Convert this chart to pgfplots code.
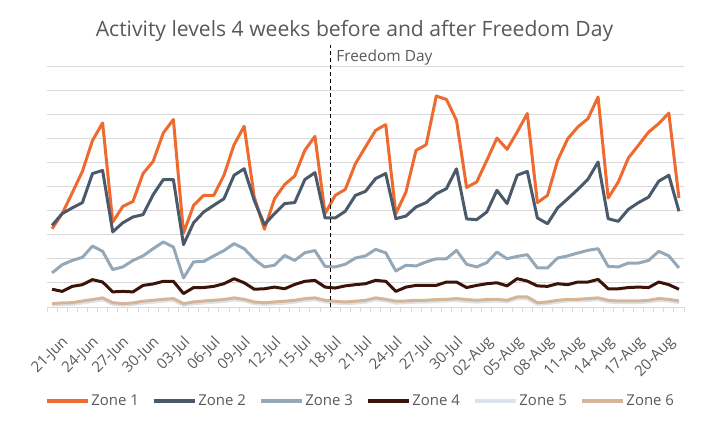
\documentclass[border=0pt]{standalone}
\usepackage{fontspec}
\setmainfont{Open Sans}
\usepackage{pgfplots}
\usepackage{pgfplotstable}
\pgfplotsset{compat=1.18}

\definecolor{zoneA}{HTML}{EE6A2F}
\definecolor{zoneB}{HTML}{4A5A6B}
\definecolor{zoneC}{HTML}{95A8B8}
\definecolor{zoneD}{HTML}{3C1308}
\definecolor{zoneE}{HTML}{DCE3EB}
\definecolor{zoneF}{HTML}{D4B597}
\definecolor{txtgrey}{HTML}{595959}
\definecolor{gridgrey}{HTML}{D9D9D9}

% day index (0 = 21-Jun), one column per zone
\pgfplotstableread{
i  z1   z2   z3   z4   z5   z6
0  3.26 3.40 1.42 0.74 0.08 0.14
1  3.89 3.89 1.76 0.65 0.10 0.17
2  4.76 4.13 1.94 0.86 0.11 0.18
3  5.65 4.35 2.07 0.93 0.17 0.25
4  6.94 5.56 2.54 1.14 0.23 0.31
5  7.67 5.69 2.32 1.04 0.30 0.38
6  3.54 3.13 1.56 0.63 0.11 0.18
7  4.19 3.51 1.67 0.65 0.08 0.14
8  4.40 3.75 1.94 0.63 0.10 0.17
9  5.56 3.85 2.13 0.90 0.16 0.24
10 6.07 4.68 2.43 0.96 0.20 0.28
11 7.25 5.31 2.71 1.07 0.24 0.32
12 7.81 5.31 2.50 1.07 0.27 0.35
13 3.08 2.60 1.21 0.56 0.07 0.14
14 4.24 3.51 1.88 0.81 0.13 0.21
15 4.65 3.96 1.90 0.81 0.17 0.25
16 4.65 4.24 2.13 0.86 0.20 0.28
17 5.49 4.51 2.35 0.97 0.23 0.31
18 6.76 5.49 2.64 1.18 0.30 0.38
19 7.53 5.76 2.43 1.01 0.25 0.32
20 4.58 4.44 1.99 0.74 0.14 0.21
21 3.24 3.43 1.67 0.76 0.11 0.18
22 4.51 3.89 1.74 0.83 0.13 0.21
23 5.10 4.31 2.15 0.76 0.16 0.24
24 5.46 4.35 1.94 0.94 0.20 0.28
25 6.53 5.31 2.26 1.07 0.27 0.35
26 7.11 5.60 2.35 1.11 0.30 0.38
27 3.89 3.71 1.69 0.83 0.21 0.28
28 4.65 3.71 1.67 0.79 0.17 0.24
29 4.90 3.99 1.78 0.88 0.14 0.21
30 5.97 4.65 2.04 0.93 0.16 0.24
31 6.67 4.82 2.13 0.97 0.20 0.28
32 7.36 5.35 2.40 1.11 0.30 0.38
33 7.60 5.56 2.26 1.07 0.25 0.32
34 3.89 3.68 1.50 0.65 0.16 0.24
35 4.79 3.79 1.74 0.83 0.18 0.25
36 6.53 4.17 1.71 0.90 0.20 0.28
37 6.76 4.35 1.88 0.90 0.20 0.28
38 8.79 4.72 2.01 0.90 0.23 0.31
39 8.65 4.93 2.01 1.04 0.25 0.32
40 7.78 5.76 2.36 1.04 0.27 0.35
41 4.98 3.67 1.78 0.81 0.23 0.31
42 5.21 3.64 1.67 0.90 0.20 0.28
43 6.11 3.96 1.85 0.97 0.23 0.31
44 7.04 4.86 2.29 1.01 0.25 0.32
45 6.57 4.31 2.01 0.88 0.21 0.28
46 7.29 5.49 2.11 1.18 0.34 0.42
47 8.06 5.65 2.18 1.08 0.34 0.42
48 4.35 3.71 1.63 0.88 0.11 0.18
49 4.65 3.47 1.63 0.86 0.14 0.21
50 6.11 4.13 2.04 0.97 0.20 0.28
51 7.01 4.51 2.13 0.93 0.25 0.32
52 7.50 4.90 2.25 1.04 0.25 0.32
53 7.85 5.32 2.36 1.04 0.27 0.35
54 8.75 6.04 2.43 1.15 0.30 0.38
55 4.54 3.68 1.69 0.76 0.21 0.28
56 5.21 3.57 1.67 0.76 0.18 0.25
57 6.21 4.07 1.83 0.81 0.18 0.25
58 6.74 4.35 1.83 0.83 0.18 0.25
59 7.29 4.58 1.94 0.81 0.21 0.28
60 7.64 5.24 2.32 1.04 0.27 0.35
61 8.08 5.49 2.13 0.93 0.25 0.32
62 4.54 3.99 1.63 0.74 0.18 0.25
}\activity

\begin{document}
\begin{tikzpicture}
\useasboundingbox (0,0) rectangle (710bp,425bp);

\node[font=\fontsize{21.2}{24}\selectfont, text=txtgrey] at (354.5bp,394bp)
  {Activity levels 4 weeks before and after Freedom Day};

\begin{axis}[
  at={(47bp,118bp)}, anchor=south west,
  scale only axis, width=637bp, height=240bp,
  xmin=-0.5, xmax=62.5, ymin=0, ymax=10,
  clip=false,
  axis x line*=bottom, axis y line*=left,
  y axis line style={draw=none},
  x axis line style={draw=gridgrey, line width=1bp},
  ytick={1,...,10}, yticklabels={},
  ymajorgrids, grid style={gridgrey, line width=1bp},
  major y tick style={draw=none},
  xtick={0,3,...,60},
  xticklabels={21-Jun,24-Jun,27-Jun,30-Jun,03-Jul,06-Jul,09-Jul,12-Jul,15-Jul,18-Jul,21-Jul,24-Jul,27-Jul,30-Jul,02-Aug,05-Aug,08-Aug,11-Aug,14-Aug,17-Aug,20-Aug},
  minor xtick={-0.5,0.5,...,62.5},
  tick align=outside,
  major x tick style={draw=none},
  minor tick length=5bp,
  minor x tick style={gridgrey, line width=1bp},
  xticklabel style={xshift=9bp, yshift=-16bp, rotate=45, anchor=north east,
    inner sep=1bp, font=\fontsize{15}{18}\selectfont, text=txtgrey},
  xticklabel shift=6bp,
  legend columns=6,
  legend style={at={(0.492,-0.392)}, anchor=center, draw=none, fill=none,
    font=\fontsize{15}{18}\selectfont, text=txtgrey,
    inner sep=0pt, nodes={inner sep=2bp},
    /tikz/every even column/.append style={column sep=11bp}},
  legend image code/.code={\draw[#1, line width=3.5bp] (0bp,0bp) -- (41bp,0bp);},
  every axis plot/.append style={line width=3bp, line join=round, mark=none},
]
\addplot[zoneA] table[x=i, y=z1] {\activity};
\addlegendentry{Zone 1}
\addplot[zoneB] table[x=i, y=z2] {\activity};
\addlegendentry{Zone 2}
\addplot[zoneC] table[x=i, y=z3] {\activity};
\addlegendentry{Zone 3}
\addplot[zoneD] table[x=i, y=z4] {\activity};
\addlegendentry{Zone 4}
\addplot[zoneE] table[x=i, y=z5] {\activity};
\addlegendentry{Zone 5}
\addplot[zoneF] table[x=i, y=z6] {\activity};
\addlegendentry{Zone 6}

\addplot[black, line width=1.2bp, dash pattern=on 4bp off 3bp, forget plot]
  coordinates {(27.5,0) (27.5,10.9)};
\node[anchor=west, font=\fontsize{15.5}{18}\selectfont, text=txtgrey, inner sep=0pt]
  at (axis cs:27.5,10.4) {\hspace{6bp}Freedom Day};
\end{axis}
\end{tikzpicture}
\end{document}
